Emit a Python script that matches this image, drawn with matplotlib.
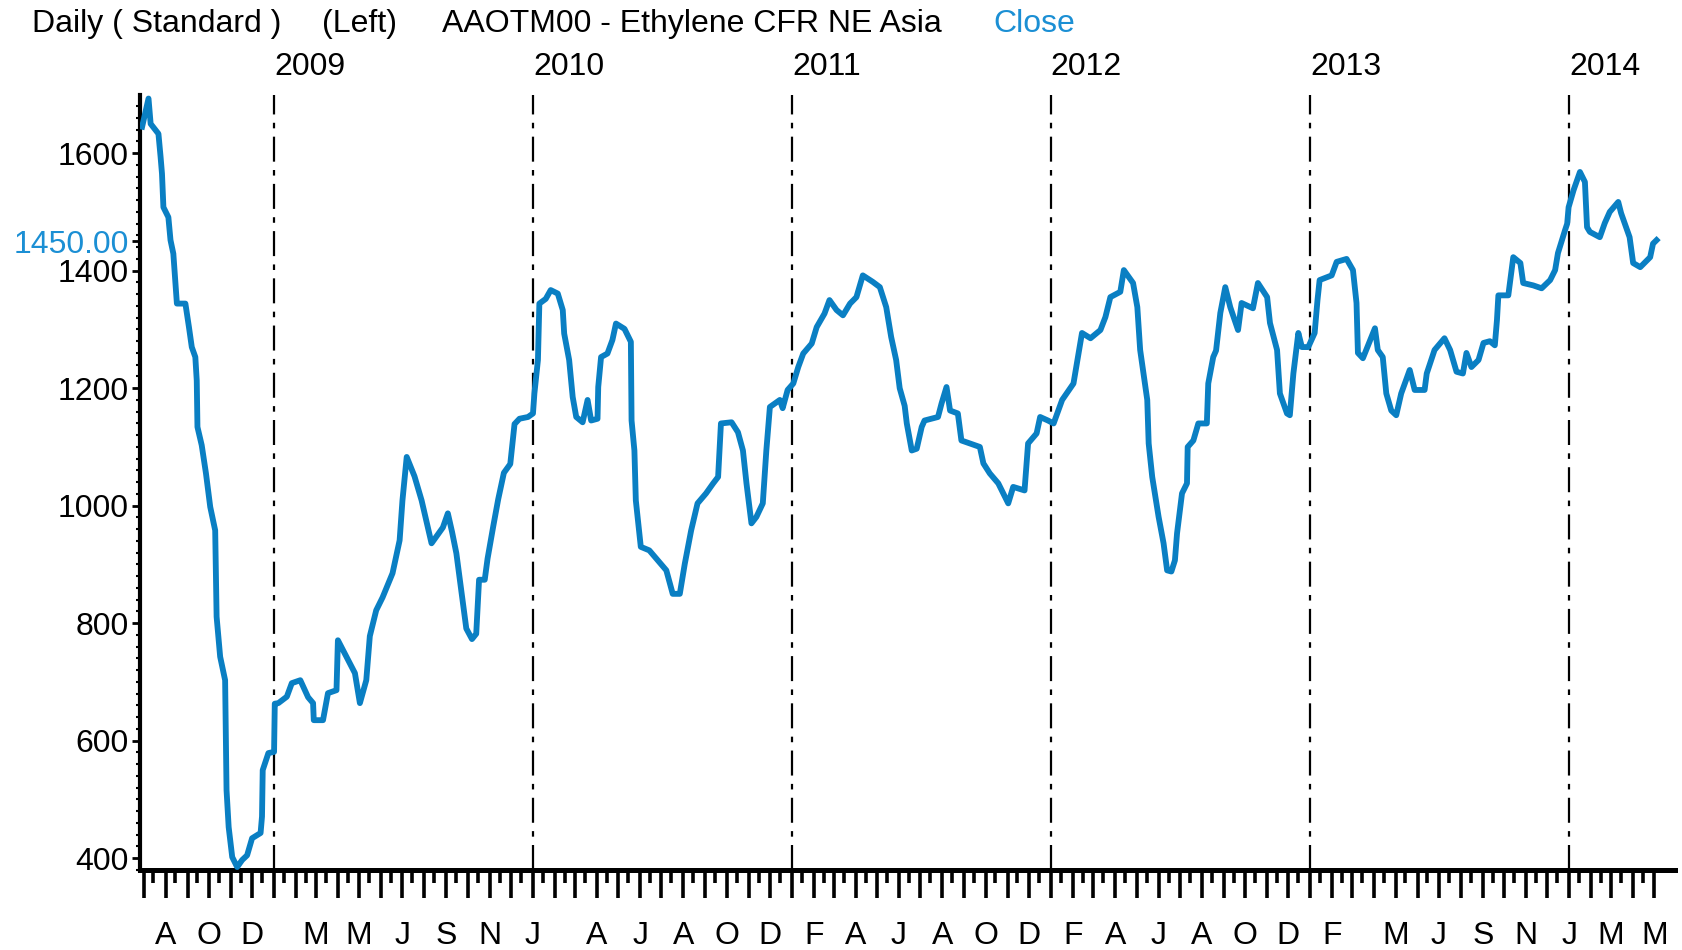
import matplotlib
matplotlib.use("Agg")
import matplotlib.pyplot as plt
import pandas as pd

# Daily close, AAOTM00 Ethylene CFR NE Asia (USD/t)
dates = [
    "2008-06-29", "2008-07-08", "2008-07-11", "2008-07-18", "2008-07-22", "2008-07-25",
    "2008-07-27", "2008-07-29", "2008-08-05", "2008-08-08", "2008-08-12", "2008-08-15",
    "2008-08-17", "2008-08-29", "2008-09-03", "2008-09-07", "2008-09-12", "2008-09-14",
    "2008-09-15", "2008-09-21", "2008-09-27", "2008-10-03", "2008-10-10", "2008-10-12",
    "2008-10-17", "2008-10-24", "2008-10-26", "2008-10-29", "2008-11-03", "2008-11-10",
    "2008-11-17", "2008-11-24", "2008-12-01", "2008-12-13", "2008-12-15", "2008-12-16",
    "2008-12-24", "2009-01-01", "2009-01-02",
    "2009-01-07", "2009-01-19", "2009-01-26", "2009-02-07", "2009-02-18", "2009-02-25",
    "2009-02-26", "2009-03-11", "2009-03-18", "2009-03-30", "2009-04-01", "2009-04-13",
    "2009-04-25", "2009-05-02", "2009-05-11", "2009-05-16", "2009-05-25", "2009-06-03",
    "2009-06-17", "2009-06-27", "2009-07-01", "2009-07-07", "2009-07-18", "2009-07-28",
    "2009-08-11", "2009-08-27", "2009-09-03", "2009-09-09", "2009-09-15", "2009-09-21",
    "2009-09-29", "2009-10-07", "2009-10-13", "2009-10-17", "2009-10-25", "2009-10-29",
    "2009-11-06", "2009-11-13", "2009-11-21", "2009-11-30", "2009-12-06", "2009-12-13",
    "2009-12-25",
    "2010-01-01", "2010-01-03", "2010-01-08", "2010-01-10", "2010-01-19", "2010-01-26",
    "2010-02-05", "2010-02-12", "2010-02-14", "2010-02-21", "2010-02-26", "2010-03-03",
    "2010-03-12", "2010-03-19", "2010-03-24", "2010-04-02", "2010-04-03", "2010-04-07",
    "2010-04-16", "2010-04-23", "2010-04-28", "2010-05-10", "2010-05-19", "2010-05-20",
    "2010-05-24", "2010-05-26", "2010-06-02", "2010-06-14", "2010-06-26", "2010-07-08",
    "2010-07-17", "2010-07-27", "2010-08-03", "2010-08-12", "2010-08-21", "2010-09-02",
    "2010-09-12", "2010-09-19", "2010-09-23", "2010-10-08", "2010-10-17", "2010-10-24",
    "2010-10-29", "2010-11-05", "2010-11-12", "2010-11-21", "2010-11-26", "2010-12-01",
    "2010-12-15", "2010-12-19", "2010-12-26",
    "2011-01-03", "2011-01-10", "2011-01-17", "2011-01-29", "2011-02-05", "2011-02-16",
    "2011-02-23", "2011-03-05", "2011-03-14", "2011-03-24", "2011-04-02", "2011-04-11",
    "2011-04-25", "2011-05-05", "2011-05-14", "2011-05-21", "2011-05-28", "2011-06-02",
    "2011-06-09", "2011-06-12", "2011-06-19", "2011-06-26", "2011-07-03", "2011-07-07",
    "2011-07-26", "2011-07-31", "2011-08-07", "2011-08-12", "2011-08-23", "2011-08-28",
    "2011-09-23", "2011-09-28", "2011-10-07", "2011-10-19", "2011-11-02", "2011-11-09",
    "2011-11-25", "2011-11-30", "2011-12-12", "2011-12-17", "2011-12-28",
    "2012-01-05", "2012-01-17", "2012-02-02", "2012-02-14", "2012-02-26", "2012-03-11",
    "2012-03-18", "2012-03-25", "2012-04-08", "2012-04-13", "2012-04-26", "2012-05-02",
    "2012-05-06", "2012-05-16", "2012-05-18", "2012-05-23", "2012-06-01", "2012-06-08",
    "2012-06-13", "2012-06-19", "2012-06-24", "2012-06-27", "2012-07-04", "2012-07-11",
    "2012-07-12", "2012-07-20", "2012-07-27", "2012-08-08", "2012-08-10", "2012-08-17",
    "2012-08-21", "2012-08-27", "2012-09-03", "2012-09-10", "2012-09-21", "2012-09-26",
    "2012-10-12", "2012-10-19", "2012-11-01", "2012-11-05", "2012-11-15", "2012-11-19",
    "2012-11-29", "2012-12-03", "2012-12-08", "2012-12-15", "2012-12-20", "2012-12-29",
    "2013-01-07", "2013-01-11", "2013-01-14", "2013-01-31", "2013-02-07", "2013-02-21",
    "2013-03-02", "2013-03-07", "2013-03-09", "2013-03-16", "2013-04-02", "2013-04-06",
    "2013-04-13", "2013-04-18", "2013-04-25", "2013-05-02", "2013-05-09", "2013-05-21",
    "2013-05-28", "2013-06-11", "2013-06-14", "2013-06-25", "2013-07-09", "2013-07-17",
    "2013-07-26", "2013-08-04", "2013-08-09", "2013-08-16", "2013-08-26", "2013-09-02",
    "2013-09-11", "2013-09-18", "2013-09-21", "2013-09-23", "2013-10-07", "2013-10-14",
    "2013-10-24", "2013-10-28", "2013-11-11", "2013-11-23", "2013-12-05", "2013-12-12",
    "2013-12-16", "2013-12-26", "2013-12-29", "2013-12-31",
    "2014-01-07", "2014-01-16", "2014-01-23", "2014-01-26", "2014-01-30", "2014-02-13",
    "2014-02-20", "2014-02-27", "2014-03-11", "2014-03-15", "2014-03-27", "2014-04-01",
    "2014-04-11", "2014-04-25", "2014-04-29", "2014-05-04",
]
prices = [
    1645, 1693, 1650, 1639, 1633, 1594,
    1565, 1508, 1491, 1452, 1429, 1378,
    1344, 1344, 1304, 1270, 1253, 1213,
    1134, 1103, 1055, 998, 958, 811,
    743, 703, 516, 453, 402, 385,
    397, 405, 434, 443, 471, 550,
    579, 581, 663,
    664, 675, 698, 703, 674, 664,
    635, 635, 681, 686, 771, 743,
    715, 664, 703, 778, 822, 844,
    885, 941, 1009, 1083, 1050, 1009,
    936, 963, 987, 955, 919, 864,
    791, 773, 782, 874, 874, 910,
    965, 1011, 1056, 1071, 1139, 1148,
    1151,
    1157, 1191, 1248, 1344, 1352, 1367,
    1361, 1333, 1293, 1248, 1185, 1151,
    1142, 1180, 1145, 1148, 1202, 1253,
    1259, 1282, 1310, 1301, 1279, 1145,
    1094, 1009, 930, 924, 907, 890,
    850, 850, 901, 958, 1004, 1021,
    1038, 1049, 1140, 1142, 1125, 1094,
    1038, 970, 981, 1004, 1094, 1168,
    1180, 1166, 1197,
    1208, 1236, 1259, 1276, 1304, 1327,
    1350, 1333, 1324, 1344, 1355, 1392,
    1381, 1372, 1338, 1287, 1248, 1200,
    1170, 1140, 1094, 1097, 1134, 1145,
    1151, 1174, 1202, 1162, 1157, 1111,
    1100, 1072, 1055, 1038, 1004, 1032,
    1026, 1106, 1123, 1151, 1145,
    1140, 1180, 1208, 1294, 1285, 1299,
    1321, 1355, 1364, 1401, 1379, 1338,
    1265, 1180, 1106, 1049, 981, 936,
    890, 888, 907, 953, 1021, 1038,
    1100, 1111, 1140, 1140, 1208, 1253,
    1264, 1328, 1372, 1338, 1299, 1345,
    1336, 1379, 1355, 1311, 1265, 1191,
    1157, 1154, 1225, 1294, 1270, 1270,
    1294, 1350, 1384, 1392, 1415, 1420,
    1401, 1345, 1260, 1251, 1302, 1265,
    1253, 1191, 1162, 1154, 1191, 1231,
    1197, 1197, 1225, 1265, 1285, 1265,
    1228, 1225, 1260, 1236, 1248, 1277,
    1280, 1273, 1316, 1358, 1358, 1423,
    1413, 1379, 1375, 1370, 1384, 1401,
    1430, 1469, 1480, 1508,
    1537, 1568, 1551, 1474, 1466, 1457,
    1481, 1500, 1517, 1498, 1457, 1413,
    1406, 1423, 1446, 1452,
]

year_marks = ["2009", "2010", "2011", "2012", "2013", "2014"]
month_label_dates = [
    "2008-08-01", "2008-10-01", "2008-12-01", "2009-03-01", "2009-05-01", "2009-07-01",
    "2009-09-01", "2009-11-01", "2010-01-01", "2010-04-01", "2010-06-01", "2010-08-01",
    "2010-10-01", "2010-12-01", "2011-02-01", "2011-04-01", "2011-06-01", "2011-08-01",
    "2011-10-01", "2011-12-01", "2012-02-01", "2012-04-01", "2012-06-01", "2012-08-01",
    "2012-10-01", "2012-12-01", "2013-02-01", "2013-05-01", "2013-07-01", "2013-09-01",
    "2013-11-01", "2014-01-01", "2014-03-01", "2014-05-01",
]
y_ticks = [400, 600, 800, 1000, 1200, 1400, 1450, 1600]
y_tick_labels = ["400", "600", "800", "1000", "1200", "1400", "1450.00", "1600"]
last_close = 1450

LINE_BLUE = "#0A7FC3"
TEXT_BLUE = "#1B8FD4"
FS = 23

plt.rcParams["font.family"] = ["Liberation Sans", "DejaVu Sans"]
plt.rcParams["lines.scale_dashes"] = False

W, H = 1683, 950
fig = plt.figure(figsize=(W / 100, H / 100), dpi=100)
ax = fig.add_axes([140 / W, 1 - 870 / H, (1675 - 140) / W, (870 - 95) / H])

x = pd.to_datetime(dates)
ax.plot(x, prices, color=LINE_BLUE, lw=4.2, solid_joinstyle="round", zorder=3)

ax.set_xlim(pd.Timestamp("2008-06-26"), pd.Timestamp("2014-05-30"))
ax.set_ylim(380, 1699)

# year separators
for yr in year_marks:
    d = pd.Timestamp(f"{yr}-01-01")
    ax.axvline(d, color="black", lw=1.6, ls=(0, (18, 6, 4, 6)), zorder=1)
    ax.text(d, 1.036, yr, transform=ax.get_xaxis_transform(), ha="left", va="center",
            fontsize=FS, clip_on=False)

# spines
for s in ("top", "right"):
    ax.spines[s].set_visible(False)
ax.spines["left"].set_linewidth(3.0)
ax.spines["bottom"].set_linewidth(3.6)

# x ticks: long at month start, short mid-month
month_starts = pd.date_range("2008-07-01", "2014-05-01", freq="MS")
mid_months = month_starts[:-1] + pd.Timedelta(days=14)
ax.set_xticks(month_starts)
ax.set_xticks(mid_months, minor=True)
ax.tick_params(axis="x", which="major", length=20, width=2.6, labelbottom=False)
ax.tick_params(axis="x", which="minor", length=9, width=2.6, labelbottom=False)

for d in month_label_dates:
    ts = pd.Timestamp(d)
    ax.text(ts, -0.085, ts.strftime("%b")[0], transform=ax.get_xaxis_transform(),
            ha="center", va="center", fontsize=FS, clip_on=False)

# y ticks
ax.set_yticks(y_ticks, y_tick_labels)
ax.set_yticks(range(380, 1700, 20), minor=True)
ax.tick_params(axis="y", which="major", length=6, width=2, pad=2, labelsize=FS)
ax.tick_params(axis="y", which="minor", length=3, width=1.5)
for lab, val in zip(ax.get_yticklabels(), y_ticks):
    if val == last_close:
        lab.set_color(TEXT_BLUE)
        lab.set_bbox(dict(facecolor="white", edgecolor="none", pad=0.5))

# header line
fig.text(32 / W, 1 - 24 / H, "Daily ( Standard )", fontsize=FS, va="center")
fig.text(322 / W, 1 - 24 / H, "(Left)", fontsize=FS, va="center")
fig.text(442 / W, 1 - 24 / H, "AAOTM00 - Ethylene CFR NE Asia", fontsize=FS, va="center")
fig.text(993 / W, 1 - 24 / H, "Close", fontsize=FS, va="center", color=TEXT_BLUE)

fig.savefig("out.png", dpi=100, facecolor="white")
